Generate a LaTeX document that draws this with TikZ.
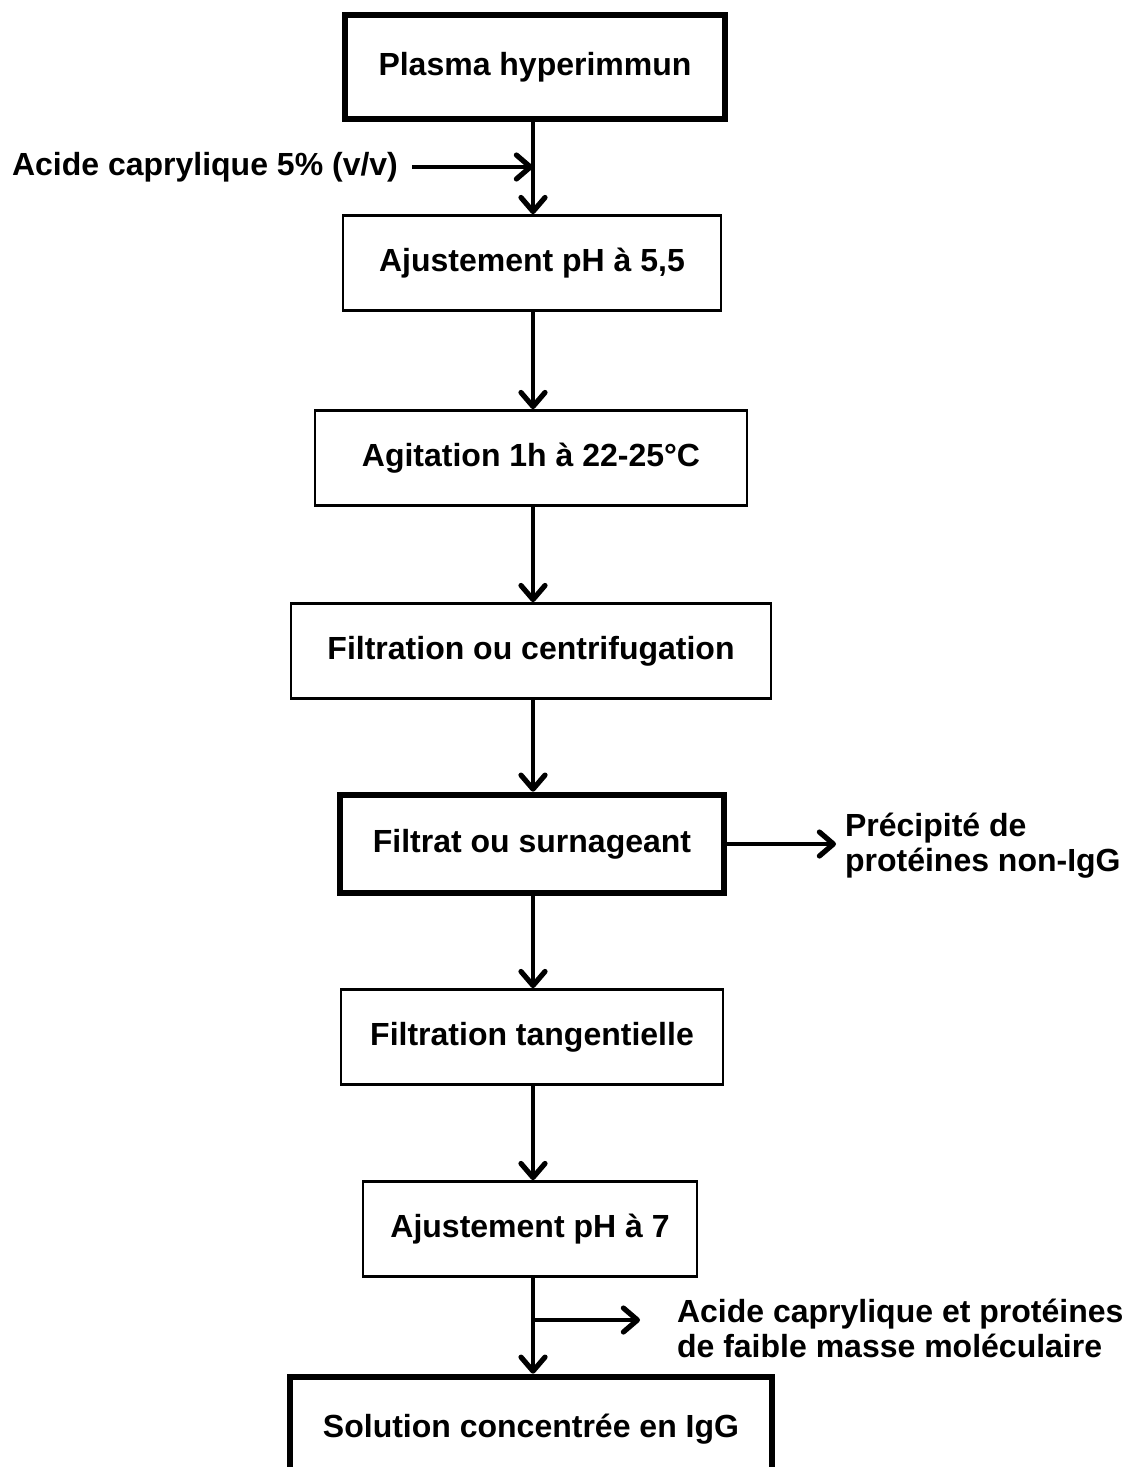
\documentclass[tikz,border=0pt]{standalone}
\usepackage{fontspec}
\setmainfont{Liberation Sans}
\usetikzlibrary{arrows.meta}

\begin{document}
\begin{tikzpicture}[x=0.5pt,y=-0.5pt,
    stepbox/.style={draw, line width=1.4pt, minimum height=47.5pt, inner sep=0pt},
    mainbox/.style={stepbox, line width=3.3pt},
    label/.style={font=\bfseries\fontsize{16}{17.5}\selectfont},
    flow/.style={line width=2pt, -{Straight Barb[length=7pt,width=12pt,line width=2.6pt,round]}}]
    \useasboundingbox (0,0) rectangle (1126,1467);

    % Steps
    \node[mainbox, label, minimum width=190pt, minimum height=52pt] (plasma) at (535,67) {Plasma hyperimmun};
    \node[stepbox, label, minimum width=189pt] (ph55) at (532,263) {Ajustement pH à 5,5};
    \node[stepbox, label, minimum width=216pt] (agit) at (531,458) {Agitation 1h à 22-25°C};
    \node[stepbox, label, minimum width=240pt] (filt) at (531,651) {Filtration ou centrifugation};
    \node[mainbox, label, minimum width=192pt, minimum height=49pt] (surn) at (532,844) {Filtrat ou surnageant};
    \node[stepbox, label, minimum width=191pt] (tang) at (532,1037) {Filtration tangentielle};
    \node[stepbox, label, minimum width=167pt] (ph7) at (530,1229) {Ajustement pH à 7};
    \node[mainbox, label, minimum width=241pt, minimum height=52pt] (igg) at (531,1429) {Solution concentrée en IgG};

    % Side inputs and outputs
    \node[label, anchor=east] (acide) at (405,167) {Acide caprylique 5\% (v/v)};
    \node[label, anchor=west, align=left] (precip) at (838,846) {Précipité de\\protéines non-IgG};
    \node[label, anchor=west, align=left] (dechet) at (670,1328) {Acide caprylique et protéines\\de faible masse moléculaire};
    \coordinate (j1) at (533,167);
    \coordinate (j2) at (533,1320);
    \coordinate (j3) at (640,1320);

    % Main flow
    \draw[flow] (plasma.south -| j1) -- (ph55.north -| j1);
    \draw[flow] (ph55.south -| j1) -- (agit.north -| j1);
    \draw[flow] (agit.south -| j1) -- (filt.north -| j1);
    \draw[flow] (filt.south -| j1) -- (surn.north -| j1);
    \draw[flow] (surn.south -| j1) -- (tang.north -| j1);
    \draw[flow] (tang.south -| j1) -- (ph7.north -| j1);
    \draw[flow] (ph7.south -| j1) -- (igg.north -| j1);

    \draw[flow] ([xshift=3.5pt]acide.east) -- (j1);
    \draw[flow] (surn.east |- 0,844) -- ([xshift=-1pt]precip.west |- 0,844);
    \draw[flow] (j2) -- (j3);
\end{tikzpicture}
\end{document}
